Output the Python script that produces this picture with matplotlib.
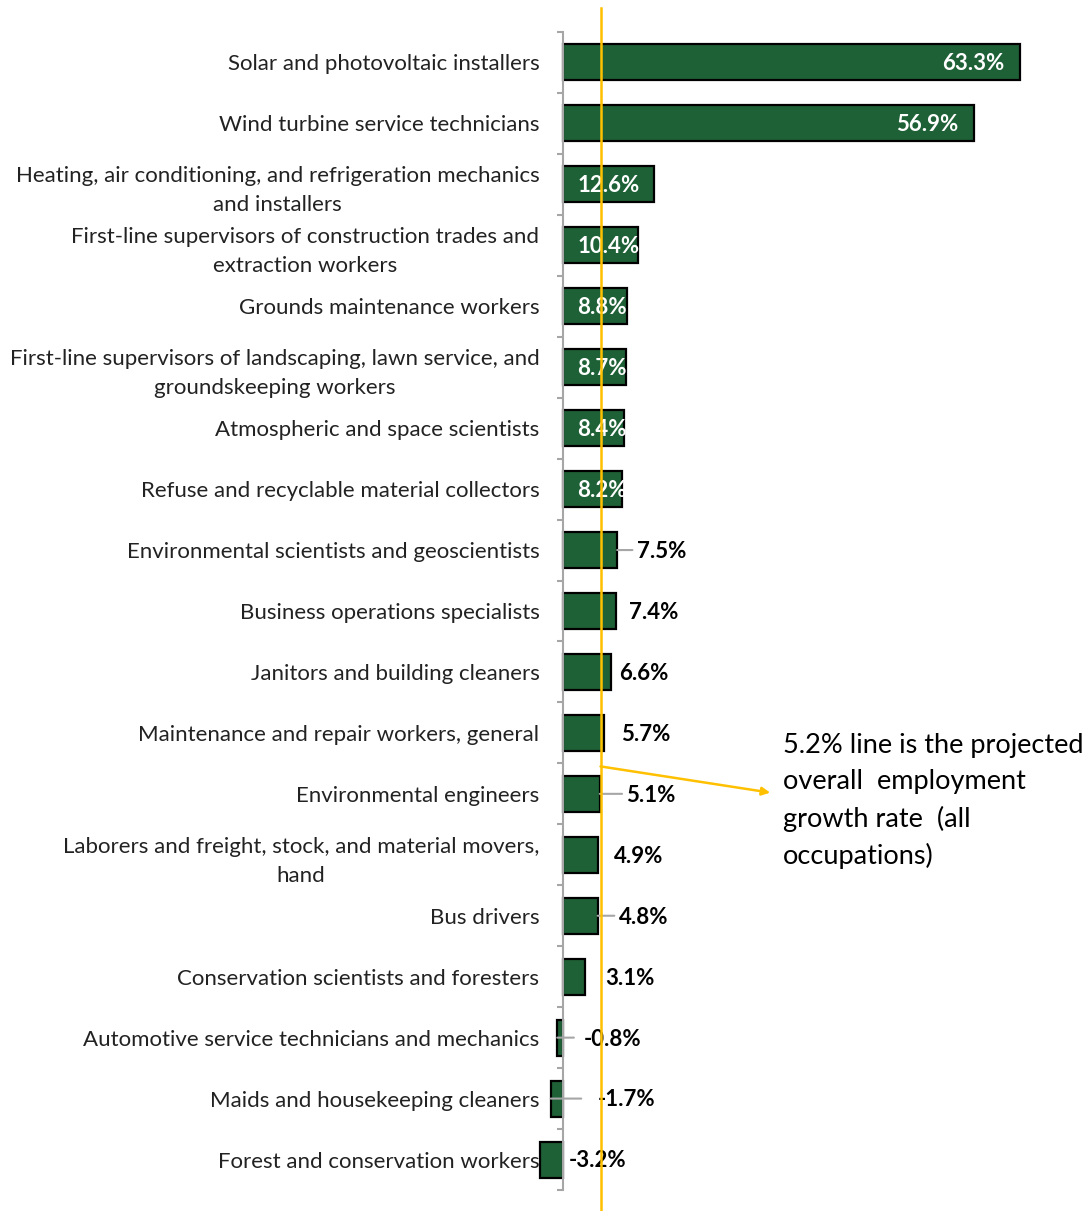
import numpy as np
import matplotlib.pyplot as plt
from matplotlib.ticker import FixedLocator

# Projected employment growth by occupation (%)
occupations = [
    "Solar and photovoltaic installers",
    "Wind turbine service technicians",
    "Heating, air conditioning, and refrigeration mechanics\nand installers",
    "First-line supervisors of construction trades and\nextraction workers",
    "Grounds maintenance workers",
    "First-line supervisors of landscaping, lawn service, and\ngroundskeeping workers",
    "Atmospheric and space scientists",
    "Refuse and recyclable material collectors",
    "Environmental scientists and geoscientists",
    "Business operations specialists",
    "Janitors and building cleaners",
    "Maintenance and repair workers, general",
    "Environmental engineers",
    "Laborers and freight, stock, and material movers,\nhand",
    "Bus drivers",
    "Conservation scientists and foresters",
    "Automotive service technicians and mechanics",
    "Maids and housekeeping cleaners",
    "Forest and conservation workers",
]
growth = [63.3, 56.9, 12.6, 10.4, 8.8, 8.7, 8.4, 8.2, 7.5, 7.4, 6.6, 5.7,
          5.1, 4.9, 4.8, 3.1, -0.8, -1.7, -3.2]
overall_rate = 5.2

# label placement: "end" inside bar end, "base" inside near axis, "out" outside
label_mode = ["end", "end", "base", "base", "base", "base", "base", "base",
              "out", "out", "out", "out", "out", "out", "out", "out",
              "out", "out", "out"]
# extra horizontal shift (points) for labels that were dragged, with leader line flag
label_shift = [0, 0, 0, 0, 0, 0, 0, 0, 14, 9, 6, 12, 19, 11, 15, 14, 15, 25, 4]
leader = [False] * 8 + [True, False, False, False, True, False, True, False,
                        True, True, False]

GREEN = "#1F6137"
GOLD = "#FFC000"
GRAY = "#A6A6A6"

plt.rcParams["font.family"] = ["Lato", "DejaVu Sans"]

fig = plt.figure(figsize=(10.91, 12.11), dpi=100)
W, H = 1091, 1211
px_per = 7.22
xmin, xmax = -4.0, 66.0
x0 = 563 - (0 - xmin) * px_per
x1 = 563 + xmax * px_per
ax = fig.add_axes([x0 / W, (H - 1190) / H, (x1 - x0) / W, (1190 - 32) / H])

y = np.arange(len(occupations))
ax.barh(y, growth, height=0.59, color=GREEN, edgecolor="black",
        linewidth=1.6, zorder=2)

ax.set_xlim(xmin, xmax)
ax.set_ylim(len(occupations) - 0.5, -0.5)

for s in ["top", "right", "bottom"]:
    ax.spines[s].set_visible(False)
ax.spines["left"].set_position(("data", 0))
ax.spines["left"].set_color(GRAY)
ax.spines["left"].set_linewidth(1.5)
ax.set_xticks([])
ax.set_yticks(y)
ax.set_yticklabels(occupations, fontsize=16, color="#222222",
                   multialignment="center", linespacing=1.55)
ax.tick_params(axis="y", which="major", length=0, pad=17)
ax.yaxis.set_minor_locator(FixedLocator(np.arange(-0.5, len(occupations), 1)))
ax.tick_params(axis="y", which="minor", length=4.5, width=1.5, color=GRAY,
               direction="out")

for i, v in enumerate(growth):
    txt = f"{v:.1f}%"
    if label_mode[i] == "end":
        ax.annotate(txt, (v, i), xytext=(-11, -1), textcoords="offset points",
                    ha="right", va="center", color="white", fontsize=16,
                    fontweight="bold", zorder=4)
    elif label_mode[i] == "base":
        ax.annotate(txt, (0, i), xytext=(10.5, -1), textcoords="offset points",
                    ha="left", va="center", color="white", fontsize=16,
                    fontweight="bold", zorder=4)
    else:
        edge = max(v, 0)
        dx = label_shift[i]
        ax.annotate(txt, (edge, i), xytext=(dx, -1), textcoords="offset points",
                    ha="left", va="center", color="black", fontsize=16,
                    fontweight="bold", zorder=4)
        if leader[i]:
            start = v if v < 0 else edge
            ax.annotate("", xy=(start, i), xytext=(dx - 3, 0),
                        textcoords="offset points",
                        arrowprops=dict(arrowstyle="-", color=GRAY, lw=1.5,
                                        shrinkA=0, shrinkB=0), zorder=3)

# overall growth reference line
ax.plot([overall_rate, overall_rate], [-0.89, 18.83], color=GOLD, lw=1.8,
        clip_on=False, zorder=5)

ax.annotate("", xy=(28.7, 11.98), xytext=(overall_rate, 11.55),
            arrowprops=dict(arrowstyle="-|>", color=GOLD, lw=1.8,
                            mutation_scale=12, shrinkA=0, shrinkB=0),
            annotation_clip=False, zorder=5)
ax.text(30.5, 11.0, "5.2% line is the projected\noverall  employment\ngrowth rate  (all\noccupations)",
        fontsize=19.5, color="black", ha="left", va="top", linespacing=1.55)

fig.savefig("out.png", dpi=100)
